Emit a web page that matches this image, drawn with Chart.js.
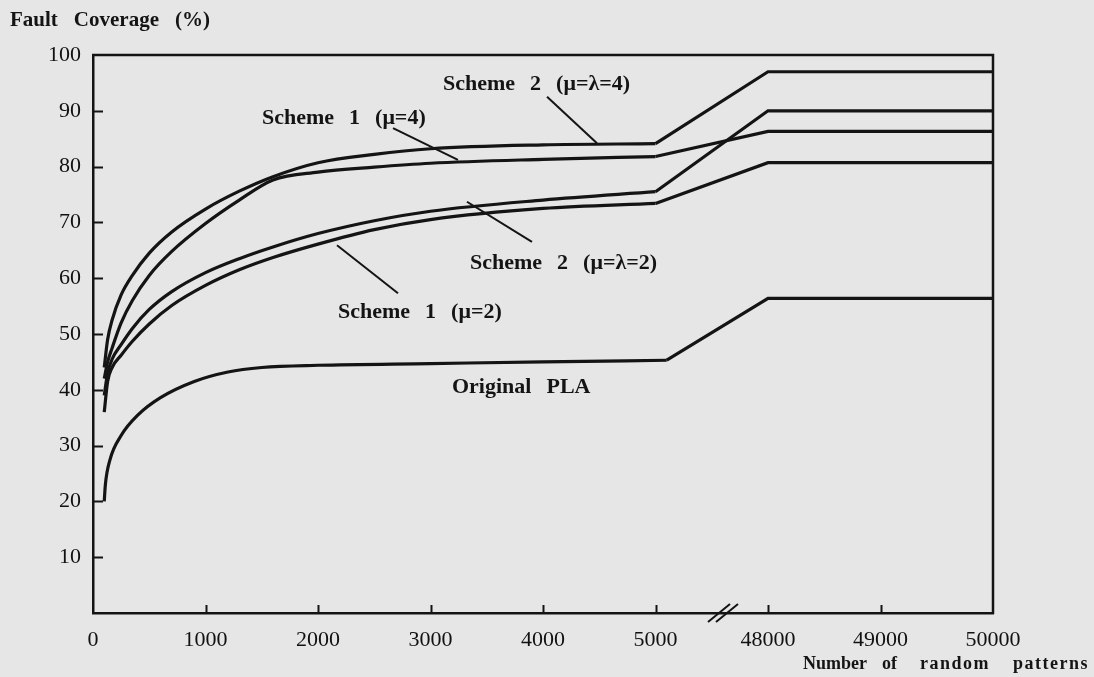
<!DOCTYPE html>
<html>
<head>
<meta charset="utf-8">
<script src="https://cdn.jsdelivr.net/npm/chart.js@4.4.1/dist/chart.umd.min.js"></script>
<style>
html,body{margin:0;padding:0;background:#e6e6e6;overflow:hidden}
canvas{display:block}
</style>
</head>
<body>
<canvas id="c" width="1094" height="677" style="width:1094px;height:677px"></canvas>
<script>
// ---------------- data ----------------
const patterns = [100, 130, 170, 250, 350, 500, 700, 1000, 1300, 1600, 2000, 2500, 3000, 4000, 5000, 48000, 50000];
const scheme2Mu4 = [44, 49, 52.5, 57, 60.5, 64.5, 68.3, 72.4, 75.6, 78.2, 80.7, 82.2, 83.2, 83.9, 84.1, 97, 97];
const scheme1Mu4 = [42, 45, 47.5, 52, 56, 60.5, 64.8, 69.8, 74, 77.6, 79.0, 79.9, 80.6, 81.3, 81.8, 86.3, 86.3];
const scheme2Mu2 = [39, 43, 45.5, 48.1, 51.0, 54.4, 57.6, 61.0, 63.5, 65.6, 68.0, 70.3, 72.0, 74.0, 75.5, 90, 90];
const scheme1Mu2 = [36, 41.5, 44, 46.2, 48.7, 51.8, 55.1, 58.7, 61.5, 63.7, 66.1, 68.7, 70.5, 72.5, 73.4, 80.7, 80.7];
const patternsOriginal = [100, 110, 150, 250, 400, 600, 900, 1200, 1500, 2000, 3000, 4000, 5100, 48000, 50000];
const originalPLA = [20, 23, 27.4, 31.8, 35.5, 38.6, 41.5, 43.2, 44.0, 44.4, 44.7, 45, 45.3, 56.4, 56.4];

const xTickPatterns = [0, 1000, 2000, 3000, 4000, 5000, 48000, 49000, 50000];
const yTickValues = [0, 10, 20, 30, 40, 50, 60, 70, 80, 90, 100];

// broken x axis: values after the break are shifted so 48000 sits one step after 5000
const BREAK_AT = 5500, BREAK_SHIFT = 42000;
const axisPos = p => (p <= BREAK_AT ? p : p - BREAK_SHIFT);

// labels and their leader lines (data coordinates, in patterns / %)
const labels = [
  {text: ['Scheme', '2', '(\u03bc=\u03bb=4)'], x: 3111, y: 94.8, line: [[4036, 92.5], [4480, 84.2]]},
  {text: ['Scheme', '1', '(\u03bc=4)'], x: 1502, y: 88.7, line: [[2667, 86.9], [3244, 81.2]]},
  {text: ['Scheme', '2', '(\u03bc=\u03bb=2)'], x: 3351, y: 62.7, line: [[3324, 73.7], [3902, 66.5]]},
  {text: ['Scheme', '1', '(\u03bc=2)'], x: 2178, y: 53.9, line: [[2169, 65.9], [2711, 57.3]]},
  {text: ['Original', 'PLA'], x: 3191, y: 40.5, line: null}
];

// ---------------- build datasets ----------------
const INK = '#141414';
function seriesDatasets(xs, ys) {
  const pts = xs.map((p, i) => ({x: axisPos(p), y: ys[i]}));
  const kink = xs.findIndex(p => p > BREAK_AT) - 1;
  const common = {borderColor: INK, borderWidth: 3.2, pointRadius: 0, fill: false, borderCapStyle: 'butt', borderJoinStyle: 'miter'};
  return [
    Object.assign({data: pts.slice(0, kink + 1), cubicInterpolationMode: 'monotone'}, common),
    Object.assign({data: pts.slice(kink), tension: 0}, common)
  ];
}
const datasets = [].concat(
  seriesDatasets(patterns, scheme2Mu4),
  seriesDatasets(patterns, scheme1Mu4),
  seriesDatasets(patterns, scheme2Mu2),
  seriesDatasets(patterns, scheme1Mu2),
  seriesDatasets(patternsOriginal, originalPLA)
);

const SERIF = '"Liberation Serif", "DejaVu Serif", serif';

function drawWords(ctx, words, x, y, gap) {
  let cx = x;
  words.forEach(w => { ctx.fillText(w, cx, y); cx += ctx.measureText(w).width + gap; });
}

const decor = {
  id: 'decor',
  beforeDraw(chart) {
    const ctx = chart.ctx;
    ctx.save();
    ctx.fillStyle = '#e6e6e6';
    ctx.fillRect(0, 0, chart.width, chart.height);
    ctx.restore();
  },
  afterDraw(chart) {
    const {ctx, chartArea: a, scales: {x, y}} = chart;
    ctx.save();
    ctx.strokeStyle = INK;
    ctx.lineCap = 'butt';
    // frame top and right
    ctx.lineWidth = 2.5;
    ctx.beginPath();
    ctx.moveTo(a.left - 1, a.top);
    ctx.lineTo(a.right, a.top);
    ctx.lineTo(a.right, a.bottom + 1);
    ctx.stroke();
    // inward ticks
    ctx.lineWidth = 2;
    ctx.beginPath();
    yTickValues.forEach(v => {
      if (v === 0 || v === 100) return;
      const py = Math.round(y.getPixelForValue(v)) + 0.5;
      ctx.moveTo(a.left, py); ctx.lineTo(a.left + 10, py);
    });
    xTickPatterns.forEach((p, i) => {
      if (i === 0 || i === xTickPatterns.length - 1) return;
      const px = Math.round(x.getPixelForValue(axisPos(p))) + 0.5;
      ctx.moveTo(px, a.bottom); ctx.lineTo(px, a.bottom - 8);
    });
    ctx.stroke();
    // break marks
    const bx = x.getPixelForValue(5600), by = a.bottom;
    ctx.lineWidth = 2;
    ctx.beginPath();
    [-4, 4].forEach(d => {
      ctx.moveTo(bx + d - 11, by + 9); ctx.lineTo(bx + d + 11, by - 9);
    });
    ctx.stroke();
    // leader lines
    ctx.lineWidth = 2;
    labels.forEach(l => {
      if (!l.line) return;
      ctx.beginPath();
      ctx.moveTo(x.getPixelForValue(l.line[0][0]), y.getPixelForValue(l.line[0][1]));
      ctx.lineTo(x.getPixelForValue(l.line[1][0]), y.getPixelForValue(l.line[1][1]));
      ctx.stroke();
    });
    // label texts
    ctx.fillStyle = INK;
    ctx.textBaseline = 'middle';
    ctx.textAlign = 'left';
    ctx.font = 'bold 22px ' + SERIF;
    labels.forEach(l => {
      drawWords(ctx, l.text, x.getPixelForValue(l.x), y.getPixelForValue(l.y), 15);
    });
    // axis titles
    ctx.font = 'bold 21px ' + SERIF;
    drawWords(ctx, ['Fault', 'Coverage', '(%)'], 10, 21, 16);
    ctx.font = 'bold 18px ' + SERIF;
    const xTitleWords = ['Number', 'of', 'random', 'patterns'];
    const xTitleLeft = [803, 882, 920, 1013];
    const xTitleSpacing = ['0px', '0px', '1.5px', '1.5px'];
    xTitleWords.forEach((w, i) => {
      if ('letterSpacing' in ctx) ctx.letterSpacing = xTitleSpacing[i];
      ctx.fillText(w, xTitleLeft[i], 664);
    });
    ctx.restore();
  }
};

new Chart(document.getElementById('c'), {
  type: 'line',
  data: {datasets},
  options: {
    responsive: false,
    animation: false,
    devicePixelRatio: 1,
    layout: {padding: {top: 55, right: 101, left: 0, bottom: 0}},
    plugins: {legend: {display: false}, tooltip: {enabled: false}},
    elements: {point: {radius: 0}},
    scales: {
      x: {
        type: 'linear',
        min: axisPos(0),
        max: axisPos(50000),
        afterBuildTicks: s => { s.ticks = xTickPatterns.map(p => ({value: axisPos(p)})); },
        afterFit: s => { s.height = 64; },
        ticks: {
          autoSkip: false,
          maxRotation: 0,
          padding: 14,
          color: '#111',
          font: {family: SERIF, size: 22},
          callback: (v, i) => String(xTickPatterns[i])
        },
        grid: {display: true, drawOnChartArea: false, drawTicks: false},
        border: {display: true, color: INK, width: 2.5}
      },
      y: {
        type: 'linear',
        min: 0,
        max: 100,
        afterBuildTicks: s => { s.ticks = yTickValues.map(v => ({value: v})); },
        afterFit: s => { s.width = 93; },
        ticks: {
          padding: 12,
          color: '#111',
          font: {family: SERIF, size: 22},
          callback: v => (v === 0 ? '' : String(v))
        },
        grid: {display: true, drawOnChartArea: false, drawTicks: false},
        border: {display: true, color: INK, width: 2.5}
      }
    }
  },
  plugins: [decor]
});
</script>
</body>
</html>
